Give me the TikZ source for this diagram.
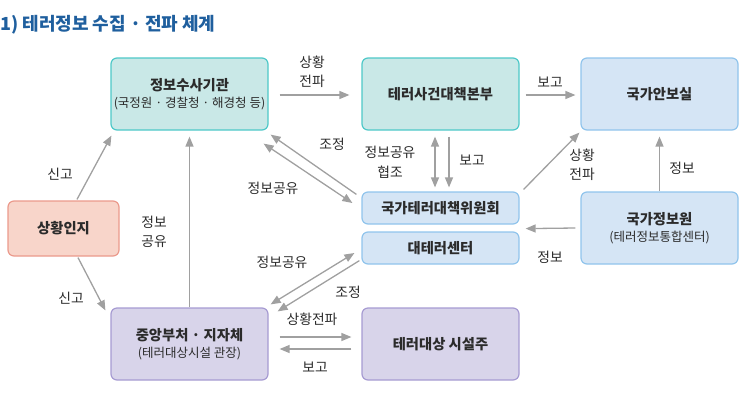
\documentclass[tikz,border=0pt]{standalone}
\usepackage{fontspec}
\setmainfont{Noto Sans CJK KR}
\usetikzlibrary{arrows.meta,calc}
\definecolor{txt}{HTML}{2B2B2B}
\definecolor{ttl}{HTML}{1F5F9E}
\definecolor{tealF}{HTML}{C9E8E7}
\definecolor{tealD}{HTML}{4EC8C8}
\definecolor{blueF}{HTML}{D5E5F5}
\definecolor{blueD}{HTML}{90C4EC}
\definecolor{salF}{HTML}{F8D5CA}
\definecolor{salD}{HTML}{EB9A8C}
\definecolor{lavF}{HTML}{D8D4EA}
\definecolor{lavD}{HTML}{A69BD2}
\definecolor{arrG}{HTML}{A0A0A0}
\newcommand\subtxt{\fontsize{12.5}{14}\selectfont\mdseries}
\tikzset{
  box/.style={draw, line width=1.2pt, rounded corners=6pt, align=center, text=txt, inner sep=0pt,
    minimum width=157pt, minimum height=72pt, font=\fontsize{14.3}{18}\selectfont\bfseries},
  tealbox/.style={box, fill=tealF, draw=tealD},
  bluebox/.style={box, fill=blueF, draw=blueD},
  salbox/.style={box, fill=salF, draw=salD},
  lavbox/.style={box, fill=lavF, draw=lavD},
  lbl/.style={text=txt, align=center, inner sep=0pt, font=\fontsize{13.8}{19.5}\selectfont},
  arr/.style={draw=arrG, line width=1.3pt, -{Triangle[length=10pt,width=8pt]}},
  darr/.style={draw=arrG, line width=1.3pt, {Triangle[length=10pt,width=8pt]}-{Triangle[length=10pt,width=8pt]}},
}
\begin{document}
\begin{tikzpicture}[x=1pt,y=-1pt]
\useasboundingbox (0,0) rectangle (743,405);
\node[anchor=west, text=ttl, inner sep=0pt, font=\fontsize{18}{20}\selectfont\bfseries] (title) at (0,25) {1) 테러정보 수집 · 전파 체계};

\node[tealbox] (A) at (189.5,94) {정보수사기관\\[-1pt]{\subtxt (국정원 · 경찰청 · 해경청 등)}};
\node[tealbox] (B) at (440.5,94) {테러사건대책본부};
\node[bluebox] (C) at (659.5,94) {국가안보실};
\node[salbox, minimum width=111pt, minimum height=55pt] (D) at (63.5,228.5) {상황인지};
\node[bluebox, minimum height=32pt] (E) at (440.5,208) {국가테러대책위원회};
\node[bluebox, minimum height=32pt] (F) at (440.5,248) {대테러센터};
\node[bluebox] (G) at (659.5,228) {국가정보원\\[-1pt]{\subtxt (테러정보통합센터)}};
\node[lavbox] (H) at (189.5,344) {중앙부처 · 지자체\\[-1pt]{\subtxt (테러대상시설 관장)}};
\node[lavbox] (I) at (440.5,344) {테러대상 시설주};

% arrows
\draw[arr] ($(A.east)+(11,1)$) -- ($(B.west)+(-12,1)$);
\draw[arr] ($(B.east)+(6,1)$) -- ($(C.west)+(-5,1)$);
\draw[arr] ($(D.north)+(13.5,-1)$) -- ($(A.south west)+(1,5)$);
\draw[arr] ($(D.south)+(14.5,1)$) -- ($(H.north west)+(-5,3)$);
\draw[arr] (H.north) -- ($(A.south)+(0,6)$);
\draw[arr] ($(E.north west)+(-5,3)$) -- ($(A.south east)+(2,4)$);
\draw[darr] ($(A.south east)+(-5,13)$) -- ($(E.west)+(-9,-5)$);
\draw[darr] ($(B.south)+(-5.5,6)$) -- ($(E.north)+(-5.5,-4)$);
\draw[arr] ($(B.south)+(8.5,6)$) -- ($(E.north)+(8.5,-4)$);
\draw[arr] ($(E.north east)+(4,-2)$) -- ($(C.south west)+(-1,2)$);
\draw[arr] (G.north) -- ($(C.south)+(0,6)$);
\draw[arr] ($(G.west)+(-5,0)$) -- ($(E.south east)+(6,4)$);
\draw[darr] ($(F.west)+(-7,5)$) -- ($(H.north east)+(2,-3)$);
\draw[arr] ($(F.south west)+(-2,-4)$) -- ($(H.north east)+(9,4)$);
\draw[arr] ($(H.east)+(11,-7)$) -- ($(I.west)+(-10,-7)$);
\draw[arr] ($(I.west)+(-10,5)$) -- ($(H.east)+(11,5)$);

% labels
\node[lbl] (l1) at (312,72) {상황\\전파};
\node[lbl] (l2) at (550,82) {보고};
\node[lbl] (l3) at (60,174) {신고};
\node[lbl] (l4) at (71,298) {신고};
\node[lbl] (l5) at (154,232) {정보\\공유};
\node[lbl] (l6) at (332,144) {조정};
\node[lbl] (l7) at (273,188) {정보공유};
\node[lbl] (l8) at (390,162) {정보공유\\협조};
\node[lbl] (l9) at (472,160) {보고};
\node[lbl] (l10) at (582,165) {상황\\전파};
\node[lbl] (l11) at (682,168) {정보};
\node[lbl] (l12) at (550,257) {정보};
\node[lbl] (l13) at (282,262) {정보공유};
\node[lbl] (l14) at (348,292) {조정};
\node[lbl] (l15) at (312,319) {상황전파};
\node[lbl] (l16) at (315,367) {보고};
\end{tikzpicture}
\end{document}
